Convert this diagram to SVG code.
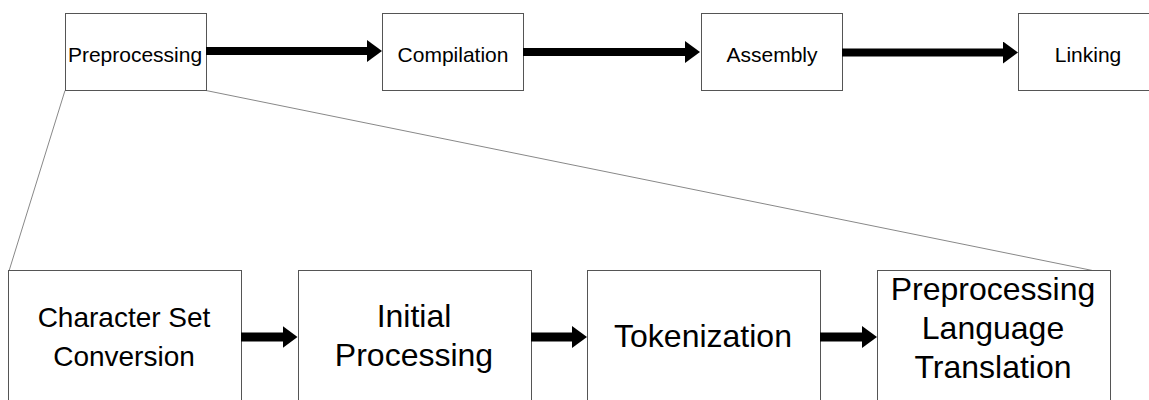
<svg xmlns="http://www.w3.org/2000/svg" width="1149" height="400" viewBox="0 0 1149 400">
<style>
.box{fill:#fff;stroke:#555;stroke-width:1}
.t{font-family:"Liberation Sans",Arial,sans-serif;fill:#000;text-anchor:middle}
.s{font-size:21px}
.m{font-size:28px}
.l{font-size:32px}
.arr{stroke:#000;fill:none}
.zoom{stroke:#888;stroke-width:1;fill:none}
</style>
<defs>
<marker id="ah" markerUnits="userSpaceOnUse" markerWidth="15" markerHeight="22" refX="1" refY="11" orient="auto" viewBox="0 0 15 22">
<path d="M0,0 L15,11 L0,22 z" fill="#000"/>
</marker>
</defs>
<rect width="1149" height="400" fill="#fff"/>
<g id="zoom-lines">
<line class="zoom" x1="65" y1="90.5" x2="9" y2="271"/>
<line class="zoom" x1="206" y1="90.5" x2="1095" y2="271"/>
</g>
<g id="preprocessing">
<rect class="box" x="65.5" y="13.5" width="141" height="77"/>
<text class="t s" x="135" y="62">Preprocessing</text>
</g>
<g id="compilation">
<rect class="box" x="382.5" y="13.5" width="141" height="77"/>
<text class="t s" x="453" y="62">Compilation</text>
</g>
<g id="assembly">
<rect class="box" x="701.5" y="13.5" width="141" height="77"/>
<text class="t s" x="772" y="62">Assembly</text>
</g>
<g id="linking">
<rect class="box" x="1018.5" y="13.5" width="141" height="77"/>
<text class="t s" x="1088" y="62">Linking</text>
</g>
<g id="charset">
<rect class="box" x="8.5" y="270.5" width="233" height="135"/>
<text class="t m" x="124" y="327">Character Set</text>
<text class="t m" x="124" y="366">Conversion</text>
</g>
<g id="initial">
<rect class="box" x="298.5" y="270.5" width="233" height="135"/>
<text class="t l" x="414" y="327">Initial</text>
<text class="t l" x="414" y="366">Processing</text>
</g>
<g id="tokenization">
<rect class="box" x="587.5" y="270.5" width="233" height="135"/>
<text class="t l" x="703" y="347">Tokenization</text>
</g>
<g id="plt">
<rect class="box" x="877.5" y="270.5" width="233" height="135"/>
<text class="t l" x="993" y="300">Preprocessing</text>
<text class="t l" x="993" y="339">Language</text>
<text class="t l" x="993" y="378">Translation</text>
</g>
<g id="connectors">
<line class="arr" stroke-width="8" x1="206" y1="51" x2="368" y2="51" marker-end="url(#ah)"/>
<line class="arr" stroke-width="8" x1="523" y1="52" x2="686" y2="52" marker-end="url(#ah)"/>
<line class="arr" stroke-width="8" x1="842" y1="52.5" x2="1004" y2="52.5" marker-end="url(#ah)"/>
<line class="arr" stroke-width="9" x1="241" y1="337" x2="283.5" y2="337" marker-end="url(#ah)"/>
<line class="arr" stroke-width="9" x1="531" y1="337" x2="573" y2="337" marker-end="url(#ah)"/>
<line class="arr" stroke-width="9" x1="820" y1="337" x2="863" y2="337" marker-end="url(#ah)"/>
</g>
</svg>
